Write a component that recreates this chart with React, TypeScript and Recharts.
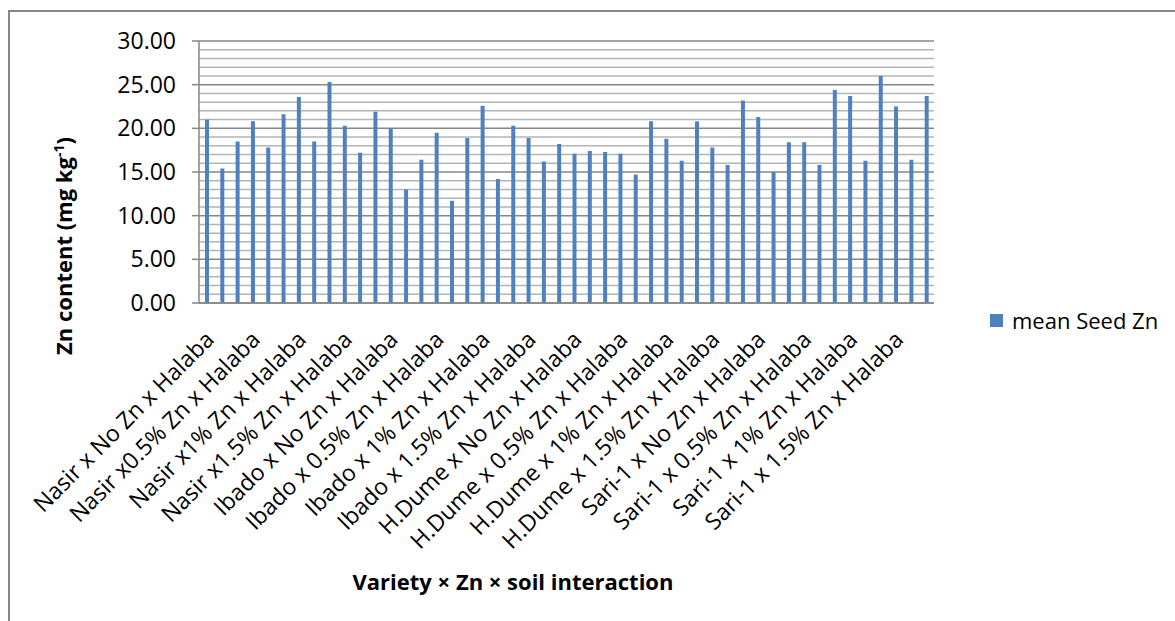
import React from 'react';
import { BarChart, Bar, XAxis, YAxis, CartesianGrid } from 'recharts';

const treatmentLabels = [
  'Nasir x No Zn x Halaba',
  'Nasir x0.5% Zn x Halaba',
  'Nasir x1% Zn x Halaba',
  'Nasir x1.5% Zn x Halaba',
  'Ibado x No Zn x Halaba',
  'Ibado x 0.5% Zn x Halaba',
  'Ibado x 1% Zn x Halaba',
  'Ibado x 1.5% Zn x Halaba',
  'H.Dume x No Zn x Halaba',
  'H.Dume x 0.5% Zn x Halaba',
  'H.Dume x 1% Zn x Halaba',
  'H.Dume x 1.5% Zn x Halaba',
  'Sari-1 x No Zn x Halaba',
  'Sari-1 x 0.5% Zn x Halaba',
  'Sari-1 x 1% Zn x Halaba',
  'Sari-1 x 1.5% Zn x Halaba',
];

const seedZn = [
  21.0, 15.4, 18.5, 20.8, 17.8, 21.6, 23.6, 18.5, 25.3, 20.3, 17.2, 21.9,
  20.0, 13.0, 16.4, 19.5, 11.7, 18.9, 22.6, 14.2, 20.3, 18.9, 16.2, 18.2,
  17.1, 17.4, 17.3, 17.1, 14.7, 20.8, 18.8, 16.3, 20.8, 17.8, 15.8, 23.2,
  21.3, 15.0, 18.4, 18.4, 15.8, 24.4, 23.7, 16.3, 26.0, 22.5, 16.4, 23.7,
];

const majorTicks = [0, 5, 10, 15, 20, 25, 30];
const minorTicks = [1, 2, 3, 4, 6, 7, 8, 9, 11, 12, 13, 14, 16, 17, 18, 19, 21, 22, 23, 24, 26, 27, 28, 29];
const seriesName = 'mean Seed Zn';
const xTitle = 'Variety × Zn × soil interaction';

const data = seedZn.map((v, i) => ({ id: i, value: v }));

const FONT = '"Open Sans", "Liberation Sans", sans-serif';
const BAR = '#4f81bd';
const AXIS = '#868686';
const MINOR = '#b4b4b4';

function XTick(props: any) {
  const { x, y, payload } = props;
  const label = treatmentLabels[Math.floor(payload.value / 3)];
  return (
    <g transform={`translate(${x + 9},${y + 38})`}>
      <text textAnchor="end" transform="rotate(-45)" fontSize={23} fontFamily={FONT} fill="#000">
        {label}
      </text>
    </g>
  );
}

const minorGen = (args: any) => {
  const yAxis = args?.yAxis;
  if (yAxis && typeof yAxis.scale === 'function') {
    return minorTicks.map((v) => yAxis.scale(v));
  }
  const off = args.offset;
  return minorTicks.map((v) => off.top + off.height * (1 - v / 30));
};

export default function App() {
  return (
    <div style={{ position: 'relative', width: 1175, height: 621, overflow: 'hidden', background: '#fff' }}>
      <style>{'body{margin:0}'}</style>
      <div style={{ position: 'absolute', left: 8, top: 10, width: 2, height: 700, background: '#878787' }} />
      <div style={{ position: 'absolute', left: 8, top: 10, width: 1300, height: 2, background: '#878787' }} />
      <div style={{ position: 'absolute', left: 0, top: 0 }}>
        <BarChart
          width={1175}
          height={621}
          data={data}
          margin={{ top: 41, right: 241, bottom: 288, left: 139 }}
          barSize={4}
        >
          <CartesianGrid
            vertical={false}
            stroke={MINOR}
            strokeWidth={1.5}
            horizontalCoordinatesGenerator={minorGen}
          />
          <CartesianGrid vertical={false} stroke={AXIS} strokeWidth={1.5} />
          <XAxis
            dataKey="id"
            type="category"
            interval={2}
            height={30}
            tickSize={0}
            tickMargin={0}
            tickLine={false}
            axisLine={{ stroke: AXIS, strokeWidth: 1.5 }}
            tick={<XTick />}
          />
          <YAxis
            domain={[0, 30]}
            ticks={majorTicks}
            width={60}
            tickSize={7}
            tickMargin={16}
            tickFormatter={(v: number) => v.toFixed(2)}
            axisLine={{ stroke: AXIS, strokeWidth: 1.5 }}
            tickLine={{ stroke: AXIS, strokeWidth: 1.5 }}
            tick={{ fontSize: 23, fontFamily: FONT, fill: '#000' }}
          />
          <Bar dataKey="value" name={seriesName} fill={BAR} isAnimationActive={false} />
        </BarChart>
      </div>
      <div
        style={{
          position: 'absolute',
          left: 63,
          top: 246,
          transform: 'translate(-50%, -50%) rotate(-90deg)',
          whiteSpace: 'nowrap',
          fontFamily: FONT,
          fontWeight: 700,
          fontSize: 22,
          color: '#000',
          lineHeight: '26px',
        }}
      >
        Zn content (mg kg<sup style={{ fontSize: 14, verticalAlign: 'super', lineHeight: 0 }}>-1</sup>)
      </div>
      <div
        style={{
          position: 'absolute',
          left: 513,
          top: 581,
          transform: 'translate(-50%, -50%)',
          whiteSpace: 'nowrap',
          fontFamily: FONT,
          fontWeight: 700,
          fontSize: 22,
          color: '#000',
        }}
      >
        {xTitle}
      </div>
      <div
        style={{
          position: 'absolute',
          left: 990,
          top: 305,
          display: 'flex',
          alignItems: 'center',
          fontFamily: FONT,
          fontSize: 22,
          color: '#000',
          whiteSpace: 'nowrap',
        }}
      >
        <span style={{ display: 'inline-block', width: 13, height: 13, background: BAR, marginRight: 9 }} />
        <span>{seriesName}</span>
      </div>
    </div>
  );
}
